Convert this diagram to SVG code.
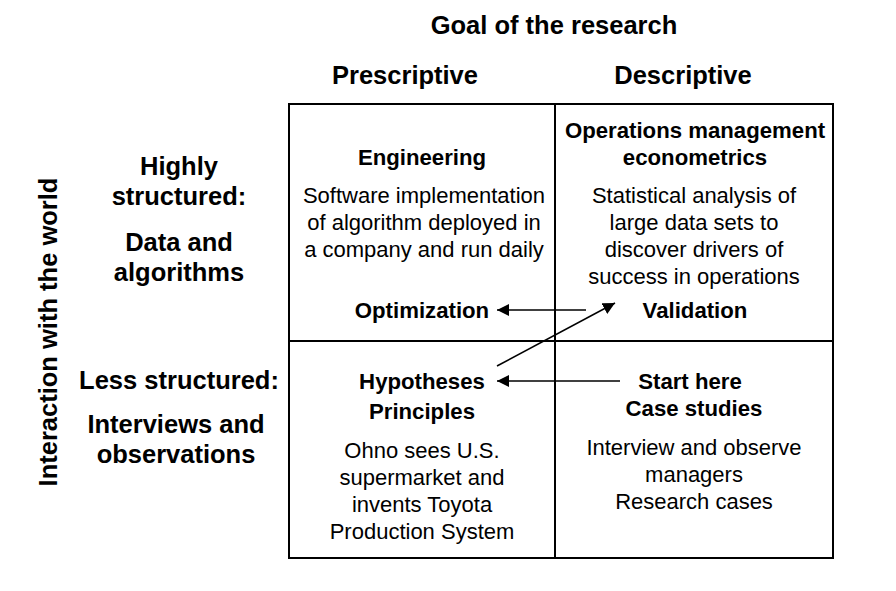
<svg xmlns="http://www.w3.org/2000/svg" width="896" height="591" viewBox="0 0 896 591">
<style>
text{font-family:"Liberation Sans",Arial,sans-serif;fill:#000;text-anchor:middle}
.h{font-size:25.5px;font-weight:bold}
.b{font-size:22.2px;font-weight:bold}
.t{font-size:22px}
.ln{stroke:#000;stroke-width:2;fill:none}
.ar{stroke:#000;stroke-width:1.6;fill:none}
</style>
<defs>
<marker id="ah" viewBox="0 0 10 10" refX="10" refY="5" markerWidth="12" markerHeight="12" markerUnits="userSpaceOnUse" orient="auto">
<path d="M0,0 L10,5 L0,10 z" fill="#000"/>
</marker>
</defs>
<rect width="896" height="591" fill="#fff"/>
<g id="headers">
<text class="h" x="554" y="34">Goal of the research</text>
<text class="h" x="405" y="84">Prescriptive</text>
<text class="h" x="683" y="84">Descriptive</text>
<text class="h" transform="translate(57,332) rotate(-90)">Interaction with the world</text>
</g>
<g id="row-labels">
<text class="h" x="179" y="175">Highly</text>
<text class="h" x="179" y="205">structured:</text>
<text class="h" x="179" y="251">Data and</text>
<text class="h" x="179" y="281">algorithms</text>
<text class="h" x="179" y="389">Less structured:</text>
<text class="h" x="176" y="433">Interviews and</text>
<text class="h" x="176" y="463">observations</text>
</g>
<g id="grid">
<rect class="ln" x="289" y="104" width="544" height="454"/>
<line class="ln" x1="555" y1="104" x2="555" y2="558"/>
<line class="ln" x1="289" y1="341" x2="833" y2="341"/>
</g>
<g id="engineering">
<text class="b" x="422" y="165">Engineering</text>
<text class="t" x="424" y="203">Software implementation</text>
<text class="t" x="424" y="230">of algorithm deployed in</text>
<text class="t" x="424" y="257">a company and run daily</text>
<text class="b" x="422" y="318">Optimization</text>
</g>
<g id="econometrics">
<text class="b" x="695" y="138">Operations management</text>
<text class="b" x="695" y="165">econometrics</text>
<text class="t" x="694" y="203">Statistical analysis of</text>
<text class="t" x="694" y="230">large data sets to</text>
<text class="t" x="694" y="257">discover drivers of</text>
<text class="t" x="694" y="284">success in operations</text>
<text class="b" x="695" y="318">Validation</text>
</g>
<g id="hypotheses">
<text class="b" x="422" y="389">Hypotheses</text>
<text class="b" x="422" y="419">Principles</text>
<text class="t" x="422" y="458">Ohno sees U.S.</text>
<text class="t" x="422" y="485">supermarket and</text>
<text class="t" x="422" y="512">invents Toyota</text>
<text class="t" x="422" y="539">Production System</text>
</g>
<g id="case-studies">
<text class="b" x="690" y="389">Start here</text>
<text class="b" x="694" y="416">Case studies</text>
<text class="t" x="694" y="455">Interview and observe</text>
<text class="t" x="694" y="482">managers</text>
<text class="t" x="694" y="509">Research cases</text>
</g>
<g id="connectors">
<line class="ar" x1="586" y1="310" x2="497" y2="310" marker-end="url(#ah)"/>
<line class="ar" x1="497" y1="366" x2="615" y2="303" marker-end="url(#ah)"/>
<line class="ar" x1="620" y1="381" x2="497" y2="381" marker-end="url(#ah)"/>
</g>
</svg>
